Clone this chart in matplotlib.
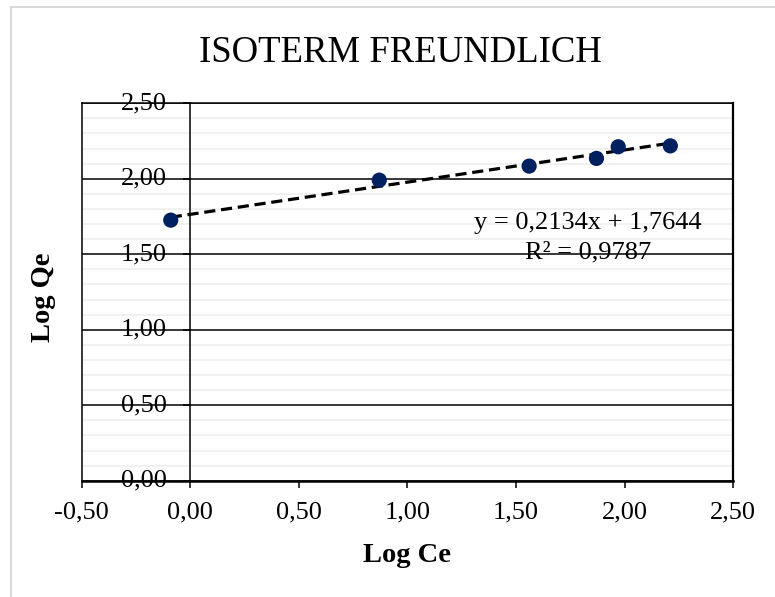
import matplotlib
matplotlib.use("Agg")
import matplotlib.pyplot as plt
import numpy as np
from matplotlib.lines import Line2D
from matplotlib.ticker import MultipleLocator, FuncFormatter

# ---- data ----
log_ce = [-0.09, 0.87, 1.56, 1.87, 1.97, 2.21]
log_qe = [1.726, 1.991, 2.084, 2.135, 2.212, 2.218]
slope = 0.2134
intercept = 1.7644
r2 = 0.9787
title = "ISOTERM FREUNDLICH"
xlabel = "Log Ce"
ylabel = "Log Qe"

plt.rcParams['font.family'] = ['Liberation Serif', 'DejaVu Serif']

fig = plt.figure(figsize=(7.75, 5.97), dpi=100)
ax = fig.add_axes([81.7/775, 116.3/597, (733.3-81.7)/775, (480.7-103.3)/597])

ax.set_xlim(-0.5, 2.5)
ax.set_ylim(0, 2.5)

# grid
ax.yaxis.set_major_locator(MultipleLocator(0.5))
ax.yaxis.set_minor_locator(MultipleLocator(0.1))
ax.xaxis.set_major_locator(MultipleLocator(0.5))
ax.grid(which='minor', axis='y', color='#eeeeee', lw=1.1, zorder=0)
ax.grid(which='major', axis='y', color='black', lw=1.1, zorder=1)
ax.set_axisbelow(True)

fmt = FuncFormatter(lambda v, p: f"{v:.2f}".replace('.', ','))
ax.xaxis.set_major_formatter(fmt)
ax.yaxis.set_major_formatter(fmt)

# spines
for s in ['top', 'right', 'bottom', 'left']:
    ax.spines[s].set_color('black')
    ax.spines[s].set_linewidth(1.1)
ax.spines['left'].set_position(('data', 0))
ax.spines['bottom'].set_linewidth(1.8)
ax.spines['right'].set_linewidth(1.6)
ax.plot([-0.5, -0.5], [0, 2.5], color='black', lw=1.1, clip_on=False, zorder=2)

ax.tick_params(axis='x', which='major', direction='out', length=5, width=1.1,
               labelsize=19, pad=10, colors='black')
ax.tick_params(axis='y', which='major', direction='out', length=5, width=1.1,
               labelsize=19, pad=12, colors='black')
ax.tick_params(axis='y', which='minor', length=0)
for lab in ax.get_yticklabels():
    lab.set_va('center')

# trendline
xt = np.array([min(log_ce), max(log_ce)])
ax.plot(xt, slope * xt + intercept, color='black', lw=2.3, ls=(0, (3.5, 1.8)), zorder=3)

# points
ax.scatter(log_ce, log_qe, s=120, color='#002060', zorder=4, edgecolors='none')

ax.text(1.831, 1.666, f"y = {slope:.4f}x + {intercept:.4f}".replace('.', ','),
        ha='center', va='baseline', fontsize=19)
ax.text(1.831, 1.473, f"R² = {r2:.4f}".replace('.', ','),
        ha='center', va='baseline', fontsize=19)

fig.text(400/775, 1 - 62/597, title, ha='center', va='baseline', fontsize=26.5)
fig.text(407/775, 1 - 562/597, xlabel, ha='center', va='baseline', fontsize=20.5,
         fontweight='bold')
fig.text(44/775, 1 - 297/597, ylabel, ha='center', va='center', rotation=90,
         fontsize=20.5, fontweight='bold')

# chart area border (light gray)
fig.add_artist(Line2D([11/775, 11/775], [0, 1 - 7/597], color='#d9d9d9', lw=1.5,
                      transform=fig.transFigure))
fig.add_artist(Line2D([11/775, 1], [1 - 7/597, 1 - 7/597], color='#d9d9d9', lw=1.5,
                      transform=fig.transFigure))

fig.savefig('out.png', dpi=100)
